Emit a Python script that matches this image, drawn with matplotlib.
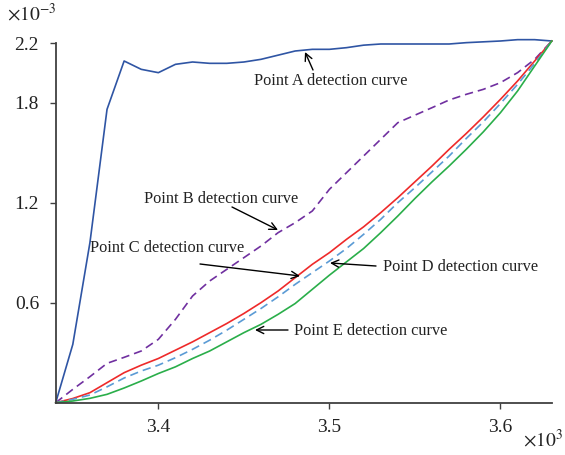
import matplotlib
matplotlib.use("Agg")
import matplotlib.pyplot as plt
from matplotlib.ticker import FuncFormatter

plt.rcParams['font.family'] = ['Liberation Serif', 'DejaVu Serif']
plt.rcParams['mathtext.fontset'] = 'stix'

# x in real units, y in units of 1e-3
x = [3340, 3350, 3360, 3370, 3380, 3390, 3400, 3410, 3420, 3430,
     3440, 3450, 3460, 3470, 3480, 3490, 3500, 3510, 3520, 3530,
     3540, 3550, 3560, 3570, 3580, 3590, 3600, 3610, 3620, 3630]

curve_a = [0.0, 0.35, 0.96, 1.76, 2.05, 2.00, 1.98, 2.03, 2.044, 2.036,
           2.036, 2.044, 2.06, 2.085, 2.11, 2.12, 2.12, 2.13, 2.145, 2.152,
           2.152, 2.152, 2.152, 2.152, 2.16, 2.165, 2.17, 2.178, 2.178, 2.17]
curve_b = [0.0, 0.08, 0.156, 0.236, 0.272, 0.31, 0.38, 0.50, 0.64, 0.73,
           0.80, 0.87, 0.94, 1.02, 1.08, 1.15, 1.28, 1.38, 1.48, 1.58,
           1.68, 1.725, 1.77, 1.816, 1.85, 1.88, 1.92, 1.98, 2.06, 2.17]
curve_c = [0.0, 0.025, 0.06, 0.12, 0.18, 0.225, 0.265, 0.315, 0.365, 0.42,
           0.475, 0.535, 0.60, 0.67, 0.75, 0.83, 0.90, 0.98, 1.055, 1.14,
           1.23, 1.325, 1.42, 1.52, 1.615, 1.715, 1.82, 1.93, 2.05, 2.17]
curve_d = [0.0, 0.02, 0.046, 0.095, 0.148, 0.19, 0.225, 0.27, 0.32, 0.375,
           0.435, 0.50, 0.565, 0.635, 0.71, 0.78, 0.85, 0.925, 1.01, 1.10,
           1.20, 1.29, 1.385, 1.48, 1.585, 1.685, 1.795, 1.91, 2.035, 2.17]
curve_e = [0.0, 0.01, 0.026, 0.05, 0.088, 0.13, 0.175, 0.215, 0.265, 0.31,
           0.365, 0.42, 0.47, 0.53, 0.595, 0.68, 0.765, 0.845, 0.925, 1.02,
           1.12, 1.225, 1.325, 1.42, 1.52, 1.625, 1.74, 1.87, 2.02, 2.17]

yticks = [0.6, 1.2, 1.8, 2.155]
ytick_labels = ['0.6', '1.2', '1.8', '2.2']
xticks = [3400, 3500, 3600]

fig = plt.figure(figsize=(5.65, 4.55), dpi=100)
ax = fig.add_axes([0.0986, 0.115, 0.878, 0.7894])

ax.plot(x, curve_a, color='#2f55a4', lw=1.2, clip_on=False)
ax.plot(x, curve_b, color='#7030a0', lw=1.2, dashes=(5, 3), clip_on=False)
ax.plot(x, curve_c, color='#ee2a2a', lw=1.2, clip_on=False)
ax.plot(x, curve_d, color='#5b9bd5', lw=1.2, dashes=(5, 3), clip_on=False)
ax.plot(x, curve_e, color='#2aae4a', lw=1.2, clip_on=False)

ax.set_xlim(3340, 3630)
ax.set_ylim(0, 2.155)
ax.set_xticks(xticks)
ax.xaxis.set_major_formatter(FuncFormatter(lambda v, p: f'{v/1000:.1f}'))
ax.set_yticks(yticks)
ax.set_yticklabels(ytick_labels)

for s in ['top', 'right']:
    ax.spines[s].set_visible(False)
for s in ['left', 'bottom']:
    ax.spines[s].set_color('#404040')
    ax.spines[s].set_linewidth(1.3)
ax.tick_params(direction='out', length=4, width=1, color='#404040',
               labelsize=14, labelcolor='#222222', pad=8)

arrow = dict(arrowstyle='->', color='black', lw=1, shrinkA=0, shrinkB=0,
             mutation_scale=13)
def note(label, tip, tail, text_pos):
    ax.annotate('', xy=tip, xycoords='figure pixels', xytext=tail,
                textcoords='figure pixels', arrowprops=arrow)
    fig.text(text_pos[0] / 565, 1 - text_pos[1] / 455, label, fontsize=11.8,
             ha='center', va='center', color='#222222')

note('Point A detection curve', (305, 455 - 52), (313, 455 - 70), (331, 81))
note('Point B detection curve', (278, 455 - 230), (232, 455 - 207), (221, 199))
note('Point C detection curve', (300, 455 - 276), (200, 455 - 264), (167, 248))
note('Point D detection curve', (330, 455 - 263), (376, 455 - 266), (461, 267))
note('Point E detection curve', (255, 455 - 330), (288, 455 - 330), (371, 331))

fig.text(0.013, 0.955, r'$\times10^{-3}$', fontsize=14, color='#222222')
fig.text(0.925, 0.018, r'$\times10^{3}$', fontsize=14, color='#222222')

fig.savefig('out.png', dpi=100)
